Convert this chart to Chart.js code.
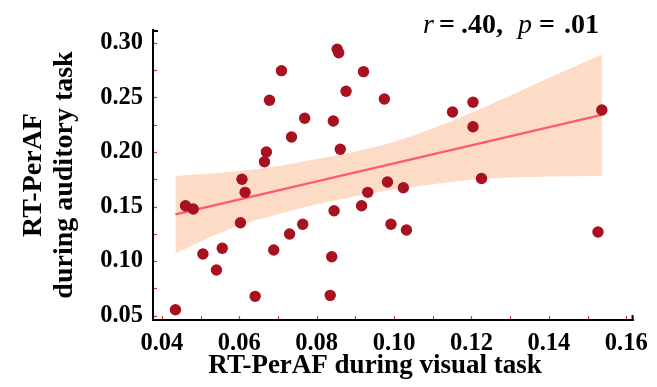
<!DOCTYPE html>
<html><head><meta charset="utf-8">
<script src="https://cdn.jsdelivr.net/npm/chart.js@4"></script>
<style>html,body{margin:0;padding:0;background:#fff;overflow:hidden}</style>
</head><body>
<canvas id="c" width="657" height="387" style="display:block;width:657px;height:387px"></canvas>
<script>
// RT-PerAF during visual task (x) vs during auditory task (y)
const visualX = [0.0435,0.0461,0.0481,0.0506,0.0541,0.0556,0.0603,0.0607,0.0615,0.0641,0.0665,0.0670,0.0689,0.0730,0.0764,0.0709,0.0678,0.0769,0.0735,0.0853,0.0857,0.0921,0.0876,0.0975,0.0843,0.0861,0.1151,0.1204,0.1204,0.1226,0.1537,0.0983,0.1024,0.0932,0.0916,0.0845,0.0992,0.1032,0.0839,0.0835,0.1527];
const auditoryY = [0.0553,0.1507,0.1477,0.1064,0.0917,0.1117,0.1351,0.1750,0.1630,0.0676,0.1911,0.2000,0.1101,0.1248,0.1337,0.2746,0.2474,0.2309,0.2138,0.2942,0.2911,0.2737,0.2557,0.2486,0.2284,0.2025,0.2367,0.2456,0.2232,0.1757,0.2385,0.1725,0.1672,0.1630,0.1507,0.1461,0.1337,0.1284,0.1039,0.0685,0.1266];

// regression line
const fitX = [0.0435, 0.1537];
const fitY = [0.1428, 0.2340];

// confidence band edges
const bandX     = [0.0435,0.05,0.06,0.07,0.08,0.09,0.10,0.11,0.12,0.13,0.14,0.1537];
const bandUpper = [0.178,0.1795,0.1825,0.187,0.1935,0.2005,0.2095,0.2215,0.236,0.2515,0.268,0.2895];
const bandLower = [0.107,0.118,0.1325,0.143,0.152,0.1595,0.1655,0.1705,0.1745,0.1765,0.1775,0.178];

// axes
const xTickValues = [0.04,0.06,0.08,0.10,0.12,0.14,0.16];
const xTickLabels = ['0.04','0.06','0.08','0.10','0.12','0.14','0.16'];
const yTickValues = [0.05,0.10,0.15,0.20,0.25,0.30];
const yTickLabels = ['0.05','0.10','0.15','0.20','0.25','0.30'];
const xMarkValues = [0.04,0.05,0.06,0.07,0.08,0.09,0.10,0.11,0.12,0.13,0.14,0.15,0.16];
const yMarkValues = [0.05,0.075,0.10,0.125,0.15,0.175,0.20,0.225,0.25,0.275,0.30];
const xRange = [0.0377, 0.1619];
const yRange = [0.0459, 0.3119];

const xTitle = 'RT-PerAF during visual task';
const yTitle = ['RT-PerAF','during auditory task'];
const serifItalic = 'italic 28px "Liberation Serif"';
const serifBold = 'bold 28px "Liberation Serif"';
const statParts = [['r', serifItalic, 423], ['=', serifBold, 439], ['.40,', serifBold, 461], ['p', serifItalic, 518], ['=', serifBold, 539], ['.01', serifBold, 564]];

const zip = (xs, ys) => xs.map((x,i)=>({x, y: ys[i]}));

const decor = {
  id: 'decor',
  afterDraw(chart) {
    const {ctx, chartArea, scales} = chart;
    const xs = scales.x, ys = scales.y;
    ctx.save();
    // inner red tick marks
    ctx.strokeStyle = '#d23a3a';
    ctx.lineWidth = 1.2;
    xMarkValues.forEach(v => {
      const px = Math.round(xs.getPixelForValue(v)) + 0.5;
      ctx.beginPath(); ctx.moveTo(px, chartArea.bottom - 1); ctx.lineTo(px, chartArea.bottom - 4); ctx.stroke();
    });
    yMarkValues.forEach(v => {
      const py = Math.round(ys.getPixelForValue(v)) + 0.5;
      ctx.beginPath(); ctx.moveTo(chartArea.left + 1, py); ctx.lineTo(chartArea.left + 4, py); ctx.stroke();
    });
    // bracket ends
    ctx.strokeStyle = '#000'; ctx.lineWidth = 2;
    ctx.beginPath(); ctx.moveTo(chartArea.left - 1, chartArea.top + 1); ctx.lineTo(chartArea.left + 5, chartArea.top + 1); ctx.stroke();
    ctx.beginPath(); ctx.moveTo(chartArea.right - 1, chartArea.bottom + 1); ctx.lineTo(chartArea.right - 1, chartArea.bottom - 5); ctx.stroke();
    // x title
    ctx.fillStyle = '#000';
    ctx.font = 'bold 27px "Liberation Serif"';
    ctx.textAlign = 'center'; ctx.textBaseline = 'alphabetic';
    ctx.fillText(xTitle, chartArea.left + 222, 373);
    // statistic annotation
    ctx.textAlign = 'left';
    statParts.forEach(([t, f, x]) => { ctx.font = f; ctx.fillText(t, x, 33); });
    ctx.restore();
  }
};

const tickFont = {family: 'Liberation Serif', size: 24.5, weight: 'bold'};

new Chart(document.getElementById('c'), {
  type: 'scatter',
  data: {
    datasets: [
      {label: 'subjects', data: zip(visualX, auditoryY), backgroundColor: '#a8111f', borderWidth: 0, pointRadius: 5.7, order: 0},
      {type: 'line', label: 'fit', data: zip(fitX, fitY), borderColor: '#ff5a68', borderWidth: 2.2, pointRadius: 0, fill: false, order: 1},
      {type: 'line', label: 'upper', data: zip(bandX, bandUpper), borderWidth: 0, borderColor: 'rgba(0,0,0,0)', backgroundColor: '#fddcc7', pointRadius: 0, fill: '+1', cubicInterpolationMode: 'monotone', order: 2},
      {type: 'line', label: 'lower', data: zip(bandX, bandLower), borderWidth: 0, borderColor: 'rgba(0,0,0,0)', pointRadius: 0, fill: false, cubicInterpolationMode: 'monotone', order: 3}
    ]
  },
  options: {
    responsive: false,
    animation: false,
    events: [],
    layout: {padding: {top: 30, right: 22, left: 0, bottom: 0}},
    plugins: {legend: {display: false}, tooltip: {enabled: false}},
    scales: {
      x: {
        type: 'linear', min: xRange[0], max: xRange[1],
        afterFit: s => { s.height = 67; },
        afterBuildTicks: s => { s.ticks = xTickValues.map(v => ({value: v})); },
        grid: {display: false, drawTicks: false},
        border: {display: true, color: '#000', width: 2},
        ticks: {color: '#000', font: tickFont, padding: 9, maxRotation: 0, autoSkip: false,
                callback: (v, i) => xTickLabels[i]}
      },
      y: {
        type: 'linear', min: yRange[0], max: yRange[1],
        afterFit: s => { s.width = 153; },
        afterBuildTicks: s => { s.ticks = yTickValues.map(v => ({value: v})); },
        grid: {display: false, drawTicks: false},
        border: {display: true, color: '#000', width: 2},
        ticks: {color: '#000', font: tickFont, padding: 10, autoSkip: false,
                callback: (v, i) => yTickLabels[i]},
        title: {display: true, text: yTitle, color: '#000',
                font: {family: 'Liberation Serif', size: 28, weight: 'bold', lineHeight: 1.08},
                padding: {top: 19, bottom: 0}}
      }
    }
  },
  plugins: [decor]
});
</script>
</body></html>
